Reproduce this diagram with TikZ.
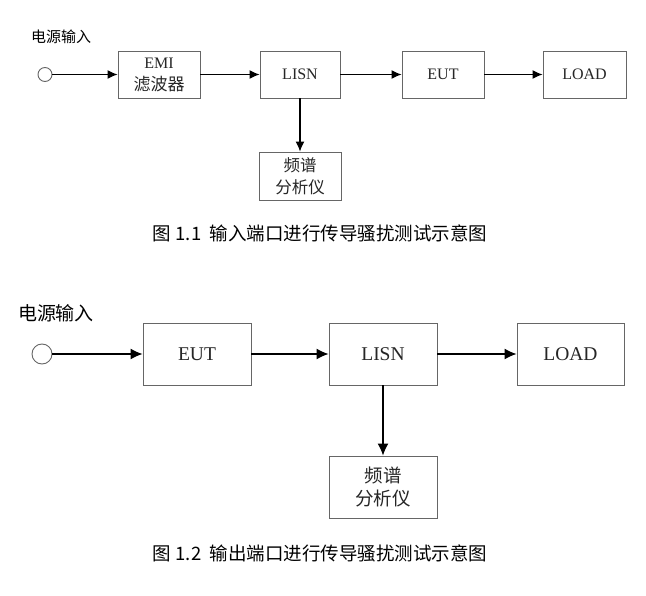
\documentclass[tikz,border=0pt]{standalone}
\usepackage{fontspec}
\setmainfont{Liberation Serif}
\newfontfamily\cjk{Noto Sans CJK SC}
\usetikzlibrary{arrows.meta}
\begin{document}
\begin{tikzpicture}[x=1pt, y=-1pt,
  box/.style={draw=black!60, line width=0.9pt, fill=white, inner sep=0pt, align=center, text=black!85},
  smallbox/.style={box, minimum width=82pt, minimum height=47pt, font=\fontsize{16}{22}\selectfont},
  bigbox/.style={box, minimum width=108pt, minimum height=62pt, font=\fontsize{19.5}{23}\selectfont},
  port/.style={circle, draw=black!60, line width=0.9pt, fill=white, inner sep=0pt},
  feed/.style={line width=1.1pt, -{Latex[length=10pt, width=9pt]}},
  bigfeed/.style={line width=1.3pt, -{Latex[length=12pt, width=11pt]}},
  caption/.style={font=\cjk\fontsize{18.5}{18.5}\selectfont}]
\useasboundingbox (0,0) rectangle (646,596);

% Fig 1.1
\node [port, minimum size=14pt] (in1) at (45, 74.5) {};
\node [font=\cjk\fontsize{15}{15}\selectfont] (lbl1) at (61, 37) {电源输入};
\node [smallbox] (emi)   at (159, 74.5) {EMI\\{\cjk\fontsize{17}{22}\selectfont 滤波器}};
\node [smallbox, minimum width=80pt] (lisn1) at (300, 74.5) {LISN};
\node [smallbox] (eut1)  at (443, 74.5) {EUT};
\node [smallbox, minimum width=83pt] (load1) at (584.5, 74.5) {LOAD};
\node [smallbox, minimum height=48pt, font=\cjk\fontsize{16.5}{22}\selectfont] (spec1) at (300, 176) {频谱\\分析仪};
\draw [feed] (in1) -- (emi);
\draw [feed] (emi) -- (lisn1);
\draw [feed] (lisn1) -- (eut1);
\draw [feed] (eut1) -- (load1);
\draw [feed] (lisn1) -- (spec1);
\node [caption] (cap1) at (320, 233) {图 1.1\ \ 输入端口进行传导骚扰测试示意图};

%%%%%%%%%%%%%%%%%%%%%%%%%%%%%%%%%%%%%%%%

% Fig 1.2
\node [port, minimum size=20pt] (in2) at (42, 354) {};
\node [font=\cjk\fontsize{19}{19}\selectfont] (lbl2) at (56, 313) {电源输入};
\node [bigbox] (eut2)  at (197, 354) {EUT};
\node [bigbox] (lisn2) at (383, 354) {LISN};
\node [bigbox, minimum width=107pt] (load2) at (570.5, 354) {LOAD};
\node [bigbox, font=\cjk\fontsize{18.5}{23}\selectfont] (spec2) at (383, 487) {频谱\\分析仪};
\draw [bigfeed] (in2) -- (eut2);
\draw [bigfeed] (eut2) -- (lisn2);
\draw [bigfeed] (lisn2) -- (load2);
\draw [bigfeed] (lisn2) -- (spec2);
\node [caption] (cap2) at (320, 553) {图 1.2\ \ 输出端口进行传导骚扰测试示意图};
\end{tikzpicture}
\end{document}
